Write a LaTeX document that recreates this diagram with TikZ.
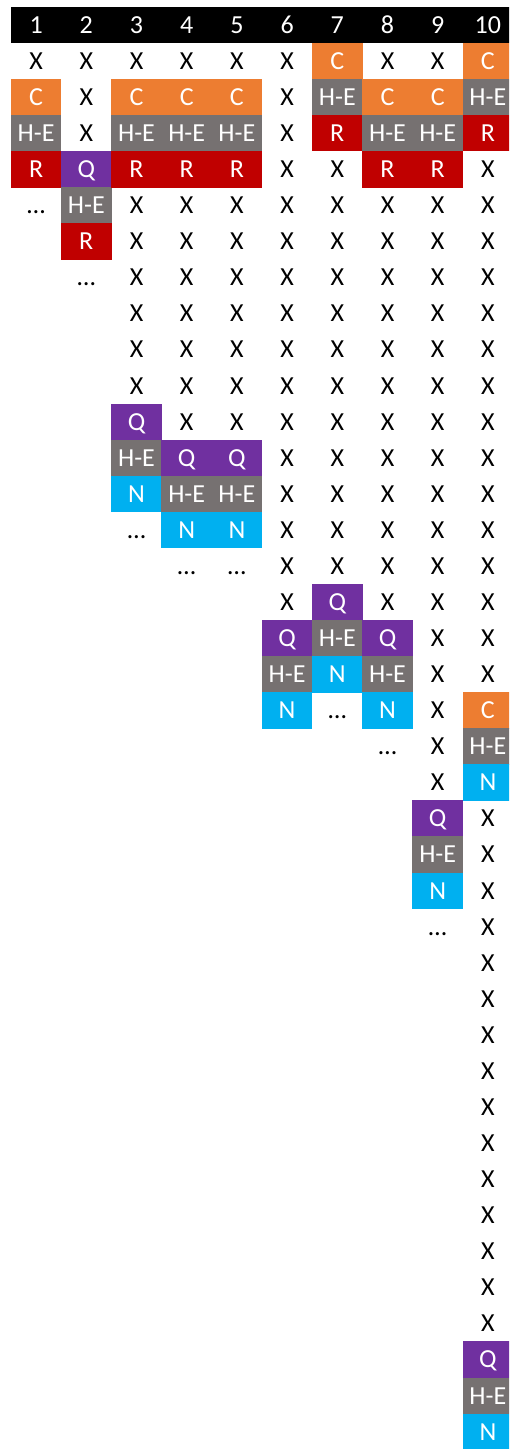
\documentclass[tikz,border=0pt]{standalone}
\usepackage{fontspec}
\setmainfont{Carlito}
\definecolor{corange}{HTML}{ED7D31}
\definecolor{cgray}{HTML}{767171}
\definecolor{cred}{HTML}{C00000}
\definecolor{cpurple}{HTML}{7030A0}
\definecolor{cblue}{HTML}{00B0F0}
\tikzset{
  cellbox/.style={minimum width=25.3pt, minimum height=18.2pt, inner sep=0pt, outer sep=0pt,
    text height=8.3pt, text depth=0pt, font=\fontsize{13}{15}\selectfont},
  xcell/.style={text=black},
  ccell/.style={fill=corange, text=white},
  hecell/.style={fill=cgray, text=white},
  rcell/.style={fill=cred, text=white},
  qcell/.style={fill=cpurple, text=white},
  ncell/.style={fill=cblue, text=white},
  dcell/.style={text=black},
  hdcell/.style={fill=black, text=white},
}
\newcommand{\mycell}[5]{\node[cellbox,#2] (#1) at ({11+(#3-0.5)*50.2},{7+(#4+0.5)*36.07}) {#5};}
\begin{document}
\begin{tikzpicture}[x=0.5pt,y=-0.5pt]
\useasboundingbox (0,0) rectangle (509,1449);
\clip (0,0) rectangle (509,1449);
% header
\foreach \c in {1,...,10} {\mycell{h\c}{hdcell}{\c}{0}{\c}}
% column 1
\mycell{x1-1}{xcell}{1}{1}{X}
\mycell{c1}{ccell}{1}{2}{C}
\mycell{he1}{hecell}{1}{3}{H-E}
\mycell{r1}{rcell}{1}{4}{R}
\mycell{d1}{dcell}{1}{5}{…}
% column 2
\foreach \r in {1,2,3} {\mycell{x2-\r}{xcell}{2}{\r}{X}}
\mycell{q2}{qcell}{2}{4}{Q}
\mycell{he2}{hecell}{2}{5}{H-E}
\mycell{r2}{rcell}{2}{6}{R}
\mycell{d2}{dcell}{2}{7}{…}
% column 3
\mycell{x3-1}{xcell}{3}{1}{X}
\mycell{c3}{ccell}{3}{2}{C}
\mycell{he3a}{hecell}{3}{3}{H-E}
\mycell{r3}{rcell}{3}{4}{R}
\foreach \r in {5,...,10} {\mycell{x3-\r}{xcell}{3}{\r}{X}}
\mycell{q3}{qcell}{3}{11}{Q}
\mycell{he3b}{hecell}{3}{12}{H-E}
\mycell{n3}{ncell}{3}{13}{N}
\mycell{d3}{dcell}{3}{14}{…}
% columns 4 and 5
\foreach \c in {4,5} {
  \mycell{x\c-1}{xcell}{\c}{1}{X}
  \mycell{c\c}{ccell}{\c}{2}{C}
  \mycell{he\c a}{hecell}{\c}{3}{H-E}
  \mycell{r\c}{rcell}{\c}{4}{R}
  \foreach \r in {5,...,11} {\mycell{x\c-\r}{xcell}{\c}{\r}{X}}
  \mycell{q\c}{qcell}{\c}{12}{Q}
  \mycell{he\c b}{hecell}{\c}{13}{H-E}
  \mycell{n\c}{ncell}{\c}{14}{N}
  \mycell{d\c}{dcell}{\c}{15}{…}
}
% column 6
\foreach \r in {1,...,16} {\mycell{x6-\r}{xcell}{6}{\r}{X}}
\mycell{q6}{qcell}{6}{17}{Q}
\mycell{he6}{hecell}{6}{18}{H-E}
\mycell{n6}{ncell}{6}{19}{N}
% column 7
\mycell{c7}{ccell}{7}{1}{C}
\mycell{he7a}{hecell}{7}{2}{H-E}
\mycell{r7}{rcell}{7}{3}{R}
\foreach \r in {4,...,15} {\mycell{x7-\r}{xcell}{7}{\r}{X}}
\mycell{q7}{qcell}{7}{16}{Q}
\mycell{he7b}{hecell}{7}{17}{H-E}
\mycell{n7}{ncell}{7}{18}{N}
\mycell{d7}{dcell}{7}{19}{…}
% column 8
\mycell{x8-1}{xcell}{8}{1}{X}
\mycell{c8}{ccell}{8}{2}{C}
\mycell{he8a}{hecell}{8}{3}{H-E}
\mycell{r8}{rcell}{8}{4}{R}
\foreach \r in {5,...,16} {\mycell{x8-\r}{xcell}{8}{\r}{X}}
\mycell{q8}{qcell}{8}{17}{Q}
\mycell{he8b}{hecell}{8}{18}{H-E}
\mycell{n8}{ncell}{8}{19}{N}
\mycell{d8}{dcell}{8}{20}{…}
% column 9
\mycell{x9-1}{xcell}{9}{1}{X}
\mycell{c9}{ccell}{9}{2}{C}
\mycell{he9a}{hecell}{9}{3}{H-E}
\mycell{r9}{rcell}{9}{4}{R}
\foreach \r in {5,...,21} {\mycell{x9-\r}{xcell}{9}{\r}{X}}
\mycell{q9}{qcell}{9}{22}{Q}
\mycell{he9b}{hecell}{9}{23}{H-E}
\mycell{n9}{ncell}{9}{24}{N}
\mycell{d9}{dcell}{9}{25}{…}
% column 10
\mycell{c10a}{ccell}{10}{1}{C}
\mycell{he10a}{hecell}{10}{2}{H-E}
\mycell{r10}{rcell}{10}{3}{R}
\foreach \r in {4,...,18} {\mycell{x10-\r}{xcell}{10}{\r}{X}}
\mycell{c10b}{ccell}{10}{19}{C}
\mycell{he10b}{hecell}{10}{20}{H-E}
\mycell{n10a}{ncell}{10}{21}{N}
\foreach \r in {22,...,36} {\mycell{x10-\r}{xcell}{10}{\r}{X}}
\mycell{q10}{qcell}{10}{37}{Q}
\mycell{he10c}{hecell}{10}{38}{H-E}
\mycell{n10b}{ncell}{10}{39}{N}
\end{tikzpicture}
\end{document}
